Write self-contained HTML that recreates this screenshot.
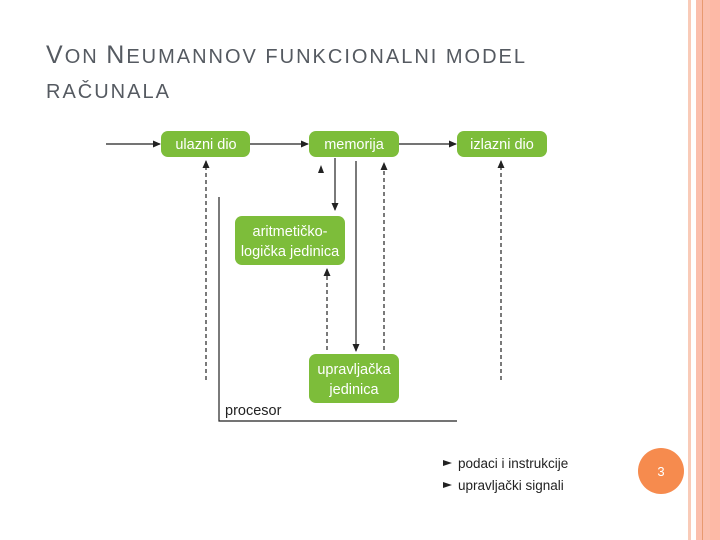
<!DOCTYPE html>
<html><head><meta charset="utf-8"><style>
body{margin:0;width:720px;height:540px;background:#fff;overflow:hidden;position:relative;font-family:"Liberation Sans",sans-serif}
.t{position:absolute;left:46px;color:#555a61;letter-spacing:2px}
</style></head><body>
<div class="t" style="top:41px;font-size:20px;white-space:nowrap"><span style="font-size:25px">V</span>ON <span style="font-size:25px">N</span>EUMANNOV FUNKCIONALNI MODEL</div>
<div class="t" style="top:81px;font-size:20px">RAČUNALA</div>
<div style="position:absolute;left:688px;top:0;width:3px;height:540px;background:#f9cbb8"></div>
<div style="position:absolute;left:696px;top:0;width:24px;height:540px;background:#fbbfad"></div>
<div style="position:absolute;left:702px;top:0;width:1px;height:540px;background:#e89a70"></div>
<div style="position:absolute;left:710px;top:0;width:10px;height:540px;background:#fdb9a6"></div>
<svg width="720" height="540" style="position:absolute;left:0;top:0" font-family="Liberation Sans, DejaVu Sans, sans-serif">
<defs><marker id="a" markerWidth="8" markerHeight="8" refX="7" refY="4" orient="auto" markerUnits="userSpaceOnUse"><path d="M0,0.5 L8,4 L0,7.5z" fill="#222"/></marker></defs>
<g stroke="#222" stroke-width="1.2" fill="none">
<line x1="106" y1="144" x2="160" y2="144" marker-end="url(#a)"/>
<line x1="250" y1="144" x2="308" y2="144" marker-end="url(#a)"/>
<line x1="399" y1="144" x2="456" y2="144" marker-end="url(#a)"/>
<line x1="335" y1="158" x2="335" y2="210" marker-end="url(#a)"/>
<line x1="356" y1="161" x2="356" y2="351" marker-end="url(#a)"/>
<g stroke-dasharray="4,3">
<line x1="206" y1="380" x2="206" y2="161" marker-end="url(#a)"/>
<line x1="327" y1="350" x2="327" y2="269" marker-end="url(#a)"/>
<line x1="384" y1="350" x2="384" y2="163" marker-end="url(#a)"/>
<line x1="501" y1="380" x2="501" y2="161" marker-end="url(#a)"/>
</g>
<polyline points="219,197 219,421 457,421"/>
</g>
<path d="M318,173 L321,165 L324,173z" fill="#222"/>
<g fill="#7dbd3a">
<rect x="161" y="131" width="89" height="26" rx="7"/>
<rect x="309" y="131" width="90" height="26" rx="7"/>
<rect x="457" y="131" width="90" height="26" rx="7"/>
<rect x="235" y="216" width="110" height="49" rx="7"/>
<rect x="309" y="354" width="90" height="49" rx="7"/>
</g>
<g fill="#fff" font-size="14.5" text-anchor="middle">
<text x="206" y="149">ulazni dio</text>
<text x="354" y="149">memorija</text>
<text x="502" y="149">izlazni dio</text>
<text x="290" y="236">aritmetičko-</text>
<text x="290" y="256">logička jedinica</text>
<text x="354" y="374">upravljačka</text>
<text x="354" y="394">jedinica</text>
</g>
<text x="225" y="415" font-size="14.5" fill="#222">procesor</text>
<path d="M443,460 L452,463 L443,466z M443,482 L452,485 L443,488z" fill="#222"/>
<text x="458" y="468" font-size="13.5" fill="#222">podaci i instrukcije</text>
<text x="458" y="490" font-size="13.5" fill="#222">upravljački signali</text>
<circle cx="661" cy="471" r="23" fill="#f68b4e"/>
<text x="661" y="476" font-size="13" fill="#fff" text-anchor="middle">3</text>
</svg>
</body></html>
